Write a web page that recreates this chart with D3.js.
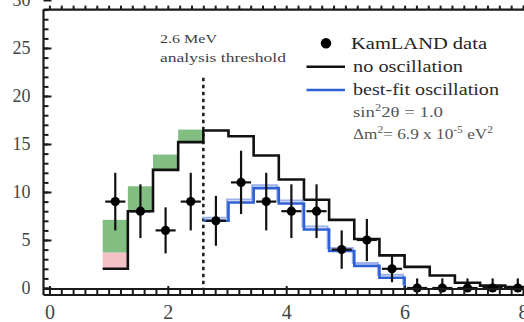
<!DOCTYPE html>
<html>
<head>
<meta charset="utf-8">
<script src="https://cdn.jsdelivr.net/npm/d3@7"></script>
<style>
  html, body { margin: 0; padding: 0; background: #fff; overflow: hidden; }
  svg { display: block; }
</style>
</head>
<body>
<svg id="chart" width="524" height="322"></svg>
<script>
// Prompt-event energy bins (MeV), 0.425 MeV wide
const binEdges = [0.9, 1.325, 1.75, 2.175, 2.6, 3.025, 3.45, 3.875, 4.3, 4.725,
                  5.15, 5.575, 6.0, 6.425, 6.85, 7.275, 7.7, 8.125];
// Observed events per bin and their errors
const dataCounts = [9, 8, 6, 9, 7, 11, 9, 8, 8, 4, 5, 2, 0, 0, 0, 0, 0];
const dataErrors = [3.0, 2.8, 2.4, 3.0, 2.6, 3.3, 3.0, 2.8, 2.8, 2.0, 2.2, 1.4, 1.0, 1.0, 1.0, 1.0, 1.0];
// Expected spectrum without oscillation
const noOscillation = [2.0, 8.0, 12.3, 15.2, 16.4, 15.8, 13.8, 11.3, 9.2, 7.1,
                       5.1, 3.4, 2.2, 1.3, 0.55, 0.25, 0.1];
// Best-fit oscillation spectrum, above the analysis threshold
const bestFitEdges = [2.6, 3.025, 3.45, 3.875, 4.3, 4.725, 5.15, 5.575, 6.0];
const bestFit = [7.0, 8.9, 10.4, 8.8, 6.1, 3.85, 2.3, 1.07];
// Low-energy backgrounds stacked on the expectation (bins below threshold)
const accidentalTop = [3.7];
const geoTop = [7.1, 10.6, 13.9, 16.5];
const threshold = 2.6;
const yTicks = [0, 5, 10, 15, 20, 25, 30];
const xTicks = [0, 2, 4, 6, 8];

const svg = d3.select("#chart");
const x = d3.scaleLinear().domain([-0.1, 8.1]).range([43.5, 528.9]);
const y = d3.scaleLinear().domain([0, 30]).range([288, 0]);
const serif = "'Liberation Serif', 'Times New Roman', serif";
const frameTop = y(29);

// shaded background contributions
const bands = svg.append("g");
accidentalTop.forEach((v, i) => {
  bands.append("rect")
    .attr("x", x(binEdges[i])).attr("width", x(binEdges[i + 1]) - x(binEdges[i]))
    .attr("y", y(v)).attr("height", y(noOscillation[i]) - y(v))
    .attr("fill", "#f2c2c6");
});
geoTop.forEach((v, i) => {
  const base = i < accidentalTop.length ? accidentalTop[i] : noOscillation[i];
  bands.append("rect")
    .attr("x", x(binEdges[i])).attr("width", x(binEdges[i + 1]) - x(binEdges[i]))
    .attr("y", y(v)).attr("height", y(base) - y(v))
    .attr("fill", "#82bd82");
});

// threshold marker
svg.append("line")
  .attr("x1", x(threshold)).attr("x2", x(threshold))
  .attr("y1", y(21.9)).attr("y2", y(0))
  .attr("stroke", "#222").attr("stroke-width", 2.6)
  .attr("stroke-dasharray", "3.5,3.5");

const step = d3.line().x(d => x(d[0])).y(d => y(d[1])).curve(d3.curveStepAfter);

// no-oscillation histogram
const noOscPts = noOscillation.map((v, i) => [binEdges[i], v]);
noOscPts.push([binEdges[binEdges.length - 1], noOscillation[noOscillation.length - 1]]);
svg.append("path").attr("d", step(noOscPts))
  .attr("fill", "none").attr("stroke", "#111").attr("stroke-width", 2.6);

// best-fit histogram
const fitPts = bestFit.map((v, i) => [bestFitEdges[i], v]);
fitPts.push([bestFitEdges[bestFitEdges.length - 1], bestFit[bestFit.length - 1]]);
fitPts.push([bestFitEdges[bestFitEdges.length - 1], 0]);
svg.append("path").attr("d", step(fitPts))
  .attr("transform", "translate(-1.5,-3)")
  .attr("fill", "none").attr("stroke", "#9db2ea").attr("stroke-width", 2);
svg.append("path").attr("d", step(fitPts))
  .attr("fill", "none").attr("stroke", "#2d5fd6").attr("stroke-width", 2.6);

// data points with error bars
const pts = svg.append("g");
dataCounts.forEach((n, i) => {
  const cx = (binEdges[i] + binEdges[i + 1]) / 2;
  const lo = Math.max(0, n - dataErrors[i]);
  const hi = n + dataErrors[i];
  pts.append("line").attr("x1", x(cx)).attr("x2", x(cx))
    .attr("y1", y(lo)).attr("y2", y(hi)).attr("stroke", "#111").attr("stroke-width", 2.2);
  pts.append("line").attr("x1", x(cx - 0.17)).attr("x2", x(cx + 0.17))
    .attr("y1", y(n)).attr("y2", y(n)).attr("stroke", "#111").attr("stroke-width", 2.2);
  pts.append("circle").attr("cx", x(cx)).attr("cy", y(n)).attr("r", 4.6).attr("fill", "#000");
});

// frame and axes
const axisColor = "#1a1a1a";
const minorX = d3.range(0, 8.01, 0.2).map(v => +v.toFixed(1));
const minorY = d3.range(0, 30, 1);

// left axis: major and minor ticks pointing inward
const leftAxis = svg.append("g").attr("transform", `translate(${x(-0.1)},0)`);
leftAxis.append("g").call(d3.axisLeft(y).tickValues(minorY).tickSize(-5).tickFormat(""))
  .call(g => g.select(".domain").remove());
leftAxis.append("g").call(d3.axisLeft(y).tickValues(yTicks).tickSize(-8).tickPadding(13)
    .tickFormat(d3.format("d")))
  .call(g => g.select(".domain").remove());
leftAxis.selectAll("line").attr("stroke", axisColor).attr("stroke-width", 2);
leftAxis.selectAll("text").attr("font-family", serif).attr("font-size", 18).attr("fill", "#444");
leftAxis.append("line").attr("x1", 0).attr("x2", 0).attr("y1", frameTop).attr("y2", 295)
  .attr("stroke", axisColor).attr("stroke-width", 2.2);

// bottom axis: double rail with ticks every 0.2 MeV
const bottomAxis = svg.append("g").attr("transform", `translate(0,289)`);
bottomAxis.append("g").call(d3.axisBottom(x).tickValues(minorX).tickSize(6).tickFormat(""))
  .call(g => g.select(".domain").remove());
bottomAxis.append("g").call(d3.axisBottom(x).tickValues(xTicks).tickSize(-3).tickFormat(""))
  .call(g => g.select(".domain").remove());
bottomAxis.selectAll("line").attr("stroke", axisColor).attr("stroke-width", 2);
bottomAxis.append("line").attr("x1", x(-0.1)).attr("x2", x(8.1)).attr("y1", 0).attr("y2", 0)
  .attr("stroke", axisColor).attr("stroke-width", 2.2);
bottomAxis.append("line").attr("x1", x(-0.1)).attr("x2", x(8.1)).attr("y1", 6).attr("y2", 6)
  .attr("stroke", axisColor).attr("stroke-width", 2.2);

const xLabels = svg.append("g").attr("transform", "translate(0,297)")
  .call(d3.axisBottom(x).tickValues(xTicks).tickSize(0).tickPadding(8).tickFormat(d3.format("d")))
  .call(g => g.select(".domain").remove());
xLabels.selectAll("text").attr("font-family", serif).attr("font-size", 20).attr("fill", "#444");

// top axis
const topAxis = svg.append("g").attr("transform", `translate(0,${frameTop})`);
topAxis.append("g").call(d3.axisTop(x).tickValues(minorX).tickSize(4).tickFormat(""))
  .call(g => g.select(".domain").remove());
topAxis.selectAll("line").attr("stroke", axisColor).attr("stroke-width", 2);
topAxis.append("line").attr("x1", x(-0.1)).attr("x2", x(8.1)).attr("y1", 0).attr("y2", 0)
  .attr("stroke", axisColor).attr("stroke-width", 2.2);

// threshold annotation
svg.append("text").attr("x", 160).attr("y", 43.3).attr("font-family", serif)
  .attr("font-size", 12.5).attr("fill", "#3a3f48")
  .attr("textLength", 57).attr("lengthAdjust", "spacingAndGlyphs").text("2.6 MeV");
svg.append("text").attr("x", 160).attr("y", 62).attr("font-family", serif)
  .attr("font-size", 13).attr("fill", "#3a3f48")
  .attr("textLength", 126).attr("lengthAdjust", "spacingAndGlyphs").text("analysis threshold");

// legend
const legend = svg.append("g");
legend.append("circle").attr("cx", 326).attr("cy", 43.3).attr("r", 5.2).attr("fill", "#000");
legend.append("line").attr("x1", 306.5).attr("x2", 345).attr("y1", 66.7).attr("y2", 66.7)
  .attr("stroke", "#111").attr("stroke-width", 2.4);
legend.append("line").attr("x1", 306.5).attr("x2", 345).attr("y1", 90).attr("y2", 90)
  .attr("stroke", "#2d5fd6").attr("stroke-width", 2.6);

function legendText(xPos, yPos, size, len, color) {
  return legend.append("text").attr("x", xPos).attr("y", yPos)
    .attr("font-family", serif).attr("font-size", size).attr("fill", color)
    .attr("textLength", len).attr("lengthAdjust", "spacingAndGlyphs");
}
legendText(351, 49, 17, 136, "#222").text("KamLAND data");
legendText(353, 72, 16, 110, "#2a2a2a").text("no oscillation");
legendText(353, 94.5, 16, 146, "#2a2a2a").text("best-fit oscillation");

const s1 = legendText(353, 116.5, 15, 90, "#555");
s1.append("tspan").text("sin");
s1.append("tspan").attr("font-size", 10).attr("dy", -6).text("2");
s1.append("tspan").attr("dy", 6).text("2θ = 1.0");

const s2 = legendText(353, 138.5, 15, 140, "#555");
s2.append("tspan").text("Δm");
s2.append("tspan").attr("font-size", 10).attr("dy", -6).text("2");
s2.append("tspan").attr("dy", 6).text("= 6.9 x 10");
s2.append("tspan").attr("font-size", 10).attr("dy", -6).text("-5");
s2.append("tspan").attr("dy", 6).text(" eV");
s2.append("tspan").attr("font-size", 10).attr("dy", -6).text("2");
</script>
</body>
</html>
